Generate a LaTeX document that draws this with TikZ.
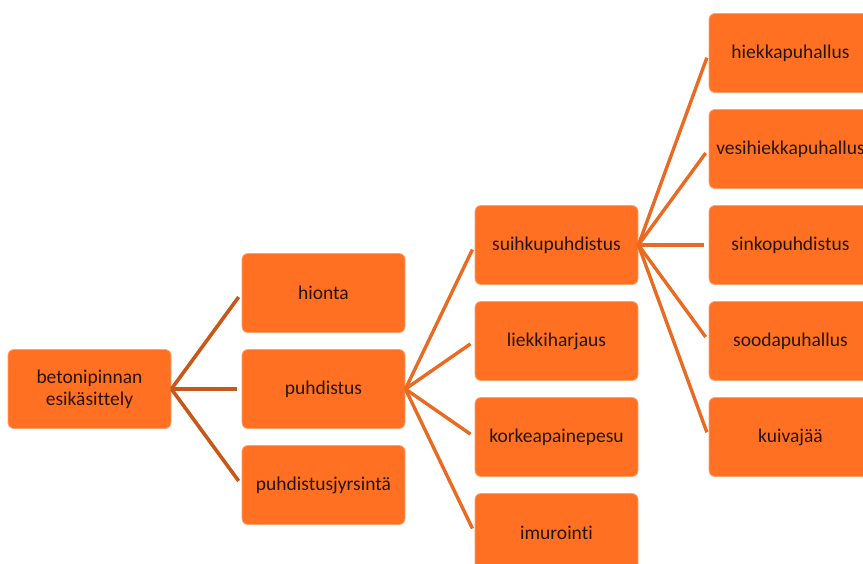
\documentclass[tikz,border=0pt]{standalone}
\usepackage{fontspec}
\setmainfont[Ligatures={NoCommon}]{Carlito}
\definecolor{boxfill}{RGB}{255,112,34}
\definecolor{boxedge}{RGB}{255,160,110}
\definecolor{txt}{RGB}{40,20,5}
\definecolor{lineA}{RGB}{200,88,24}
\definecolor{lineB}{RGB}{234,106,34}
\begin{document}
\begin{tikzpicture}[x=1pt,y=-1pt,
  box/.style={draw=boxedge,line width=0.8pt,fill=boxfill,rounded corners=6pt,
    minimum width=163pt,minimum height=79pt,inner sep=2pt,text=txt,
    font=\fontsize{19.5}{22}\selectfont,align=center},
  linkA/.style={draw=lineA,line width=3.6pt,shorten >=5pt},
  linkB/.style={draw=lineB,line width=3.4pt,shorten >=5pt}]
\useasboundingbox (0,0) rectangle (863,563);
\clip (0,0) rectangle (863,563);
\node[box] (root) at (89.5,389) {betonipinnan\\esikäsittely};
\node[box] (hionta) at (323.5,293) {hionta};
\node[box] (puhd) at (323.5,389) {puhdistus};
\node[box] (jyrs) at (323.5,485) {puhdistusjyrsintä};
\node[box] (suih) at (556.5,245) {suihkupuhdistus};
\node[box] (liek) at (556.5,341) {liekkiharjaus};
\node[box] (kork) at (556.5,437) {korkeapainepesu};
\node[box] (imur) at (556.5,533) {imurointi};
\node[box] (hiek) at (790.5,53) {hiekkapuhallus};
\node[box] (vesi) at (790.5,149) {vesihiekkapuhallus};
\node[box] (sink) at (790.5,245) {sinkopuhdistus};
\node[box] (sood) at (790.5,341) {soodapuhallus};
\node[box] (kuiv) at (790.5,437) {kuivajää};
\foreach \t in {hionta,puhd,jyrs}
  \draw[linkA] (root.east) -- (\t.west);
\foreach \t in {suih,liek,kork,imur}
  \draw[linkB] (puhd.east) -- (\t.west);
\foreach \t in {hiek,vesi,sink,sood,kuiv}
  \draw[linkB] (suih.east) -- (\t.west);
\end{tikzpicture}
\end{document}
